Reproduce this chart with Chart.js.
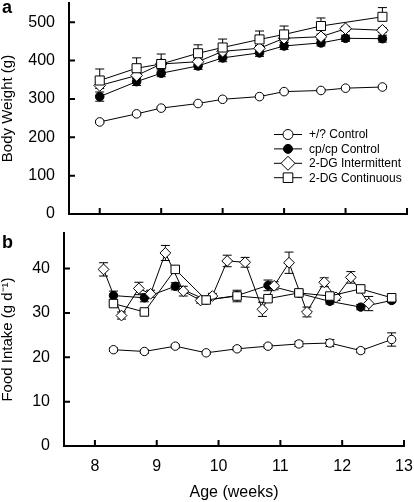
<!DOCTYPE html>
<html>
<head>
<meta charset="utf-8">
<title>Body weight and food intake</title>
<script src="https://cdn.jsdelivr.net/npm/chart.js@4.4.1/dist/chart.umd.min.js"></script>
<style>
  body { margin: 0; background: #fff; }
  canvas { position: absolute; left: 0; }
  #panelA { top: 0; }
  #panelB { top: 228px; }
</style>
</head>
<body>
<canvas id="panelA" width="414" height="226"></canvas>
<canvas id="panelB" width="414" height="274"></canvas>
<script>
// ---- panel a: body weight (g) ----
const weeksA = [8, 8.6, 9, 9.6, 10, 10.6, 11, 11.6, 12, 12.6];
const bwControl = [240, 261, 276, 288, 299, 306, 319, 322, 328, 331];
const bwControlSem = [3, 3, 3, 3, 3, 3, 3, 3, 3, 3];
const bwCpcp = [306, 345, 367, 386, 407, 420, 438, 446, 458, 457];
const bwCpcpSem = [12, 10, 9, 9, 10, 9, 9, 8, 8, 9];
const bwInterm = [335, 361, 391, 397, 424, 432, 458, 462, 483, 479];
const bwIntermSem = [8, 8, 8, 7, 7, 7, 7, 7, 6, 6];
const bwCont = [348, 380, 391, 419, 434, 455, 468, 490, null, 514];
const bwContSem = [30, 27, 26, 22, 22, 22, 22, 21, null, 24];

// ---- panel b: food intake (g/day) ----
const weeksB = [8.3, 8.8, 9.3, 9.8, 10.3, 10.8, 11.3, 11.8, 12.3, 12.8];
const fiControl = [21.7, 21.3, 22.5, 21.0, 21.9, 22.5, 23.0, 23.2, 21.5, 24.0];
const fiControlSem = [0.4, 0.4, 0.4, 0.3, 0.4, 0.4, 0.6, 0.8, 0.5, 1.5];
const fiCpcp = [33.9, 33.4, 36.0, 32.9, 33.9, 36.2, 34.4, 32.6, 31.3, 32.8];
const fiCpcpSem = [1.0, 0.9, 0.8, 0.5, 0.6, 1.2, 0.6, 0.6, 0.6, 0.5];
const fiCont = [32.1, 30.2, 39.8, 32.9, 33.8, 33.2, 34.5, 33.8, 35.4, 33.4];
const fiContSem = [0.5, 0.5, 0.6, 0.5, 1.3, 0.5, 0.5, 0.5, 0.6, 0.5];
const weeksInterm = [8.14, 8.43, 8.71, 8.9, 9.14, 9.43, 9.71, 9.9, 10.14, 10.43, 10.71, 10.9, 11.14, 11.43, 11.71, 11.9, 12.14, 12.43];
const fiInterm = [39.8, 29.4, 35.5, 34.3, 43.5, 34.9, 32.8, 33.8, 41.7, 41.4, 30.8, 36.1, 41.3, 30.2, 36.9, 33.5, 38.0, 32.1];
const fiIntermSem = [1.5, 0.8, 1.4, 0.8, 1.7, 1.1, 0.6, 0.6, 1.3, 1.1, 1.6, 0.9, 2.4, 1.1, 1.0, 0.7, 1.3, 1.6];

const groupLabels = ["+/? Control", "cp/cp Control", "2-DG Intermittent", "2-DG Continuous"];

Chart.defaults.font.family = "'Liberation Sans', Arial, sans-serif";
Chart.defaults.color = "#000";

function makeSeries(label, xs, ys, sem, style, fill, radius, order, dir = "both") {
    return {
        label: label,
        data: xs.map((x, i) => ({ x: x, y: ys[i] })),
        sem: sem,
        errorDir: dir,
        order: order,
        borderColor: "#000",
        borderWidth: 1,
        pointStyle: style,
        pointRadius: radius,
        pointBackgroundColor: fill,
        pointBorderColor: "#000",
        pointBorderWidth: 1,
        tension: 0,
        spanGaps: true,
        fill: false
    };
}

// SEM bars, drawn under the markers
const errorBars = {
    id: "errorBars",
    beforeDatasetsDraw(chart) {
        const ctx = chart.ctx;
        const xs = chart.scales.x;
        const ys = chart.scales.y;
        ctx.save();
        ctx.strokeStyle = "#000";
        ctx.lineWidth = 1;
        chart.data.datasets.forEach(ds => {
            ds.data.forEach((pt, i) => {
                const e = ds.sem[i];
                if (pt.y == null || !e) return;
                const px = xs.getPixelForValue(pt.x);
                const mid = ys.getPixelForValue(pt.y);
                const ends = [];
                if (ds.errorDir !== "down") ends.push(ys.getPixelForValue(pt.y + e));
                if (ds.errorDir !== "up") ends.push(ys.getPixelForValue(pt.y - e));
                ctx.beginPath();
                ends.forEach(py => {
                    ctx.moveTo(px, mid);
                    ctx.lineTo(px, py);
                    ctx.moveTo(px - 4.5, py);
                    ctx.lineTo(px + 4.5, py);
                });
                ctx.stroke();
            });
        });
        ctx.restore();
    }
};

// tick marks pointing into the plot
const innerTicks = {
    id: "innerTicks",
    afterDraw(chart) {
        const { ctx, chartArea } = chart;
        const xs = chart.scales.x;
        const ys = chart.scales.y;
        ctx.save();
        ctx.strokeStyle = "#000";
        ctx.lineWidth = 2;
        ctx.beginPath();
        xs.ticks.forEach(t => {
            const px = xs.getPixelForValue(t.value);
            ctx.moveTo(px, chartArea.bottom);
            ctx.lineTo(px, chartArea.bottom - 6);
        });
        ys.ticks.forEach(t => {
            const py = ys.getPixelForValue(t.value);
            ctx.moveTo(chartArea.left, py);
            ctx.lineTo(chartArea.left + 6, py);
        });
        ctx.stroke();
        ctx.restore();
    }
};

function panelLetter(text, x, y) {
    return {
        id: "panelLetter",
        afterDraw(chart) {
            const ctx = chart.ctx;
            ctx.save();
            ctx.fillStyle = "#000";
            ctx.font = "bold 18px 'Liberation Sans', Arial, sans-serif";
            ctx.textBaseline = "alphabetic";
            ctx.fillText(text, x, y);
            ctx.restore();
        }
    };
}

// legend with a short line through each marker
function lineLegend(x0, y0, step) {
    const legendRadius = [5, 4.5, 7, 6.8];
    return {
        id: "lineLegend",
        afterDraw(chart) {
            const ctx = chart.ctx;
            ctx.save();
            chart.data.datasets.forEach((ds, i) => {
                const y = y0 + i * step;
                ctx.strokeStyle = "#000";
                ctx.lineWidth = 1;
                ctx.beginPath();
                ctx.moveTo(x0, y);
                ctx.lineTo(x0 + 28, y);
                ctx.stroke();
                ctx.fillStyle = ds.pointBackgroundColor;
                Chart.helpers.drawPoint(ctx, {
                    pointStyle: ds.pointStyle,
                    radius: legendRadius[i],
                    borderWidth: 1,
                    rotation: 0
                }, x0 + 14, y);
                ctx.fillStyle = "#000";
                ctx.font = "12px 'Liberation Sans', Arial, sans-serif";
                ctx.textBaseline = "middle";
                ctx.fillText(ds.label, x0 + 35, y + 0.5);
            });
            ctx.restore();
        }
    };
}

function baseScales(yMax, yWidth, xHeight, showXLabels, yTitle, xTitle, titleSize) {
    return {
        x: {
            type: "linear",
            min: 7.5,
            max: 13,
            afterFit: s => {
                s.height = xHeight;
                s.paddingLeft = 0;
                s.paddingRight = 0;
            },
            grid: { display: false, drawTicks: false },
            border: { display: true, color: "#000", width: 2 },
            ticks: {
                display: showXLabels,
                stepSize: 1,
                includeBounds: false,
                padding: 11,
                font: { size: 16 }
            },
            title: {
                display: !!xTitle,
                text: xTitle,
                font: { size: 16 },
                padding: 0
            }
        },
        y: {
            min: 0,
            max: yMax,
            afterFit: s => {
                s.width = yWidth;
                s.paddingTop = 0;
                s.paddingBottom = 0;
            },
            grid: { display: false, drawTicks: false },
            border: { display: true, color: "#000", width: 2 },
            ticks: {
                stepSize: yMax > 100 ? 100 : 10,
                includeBounds: false,
                padding: 14,
                font: { size: 16 }
            },
            title: {
                display: true,
                text: yTitle,
                font: { size: titleSize, lineHeight: 1.1 },
                padding: 0
            }
        }
    };
}

new Chart("panelA", {
    type: "line",
    data: {
        datasets: [
            makeSeries(groupLabels[0], weeksA, bwControl, bwControlSem, "circle", "#fff", 4.3, 3),
            makeSeries(groupLabels[1], weeksA, bwCpcp, bwCpcpSem, "circle", "#000", 4.3, 2),
            makeSeries(groupLabels[2], weeksA, bwInterm, bwIntermSem, "rectRot", "#fff", 5.8, 1),
            makeSeries(groupLabels[3], weeksA, bwCont, bwContSem, "rect", "#fff", 6.4, 0, "up")
        ]
    },
    options: {
        responsive: false,
        animation: false,
        layout: { autoPadding: false, padding: { top: 3, right: 7, left: 0, bottom: 0 } },
        plugins: { legend: { display: false }, tooltip: { enabled: false } },
        scales: baseScales(550, 69, 12, false, "Body Weight (g)", "", 15)
    },
    plugins: [errorBars, innerTicks, panelLetter("a", 2, 13), lineLegend(274, 134.5, 14.4)]
});

new Chart("panelB", {
    type: "line",
    data: {
        datasets: [
            makeSeries(groupLabels[0], weeksB, fiControl, fiControlSem, "circle", "#fff", 4.2, 3),
            makeSeries(groupLabels[1], weeksB, fiCpcp, fiCpcpSem, "circle", "#000", 4.2, 2),
            makeSeries(groupLabels[2], weeksInterm, fiInterm, fiIntermSem, "rectRot", "#fff", 5.4, 1),
            makeSeries(groupLabels[3], weeksB, fiCont, fiContSem, "rect", "#fff", 6, 0)
        ]
    },
    options: {
        responsive: false,
        animation: false,
        layout: { autoPadding: false, padding: { top: 5, right: 10, left: 0, bottom: 0 } },
        plugins: { legend: { display: false }, tooltip: { enabled: false } },
        scales: baseScales(48, 64, 56, true, "Food Intake (g d\u207B\u00B9)", "Age (weeks)", 15)
    },
    plugins: [errorBars, innerTicks, panelLetter("b", 2, 20)]
});
</script>
</body>
</html>
